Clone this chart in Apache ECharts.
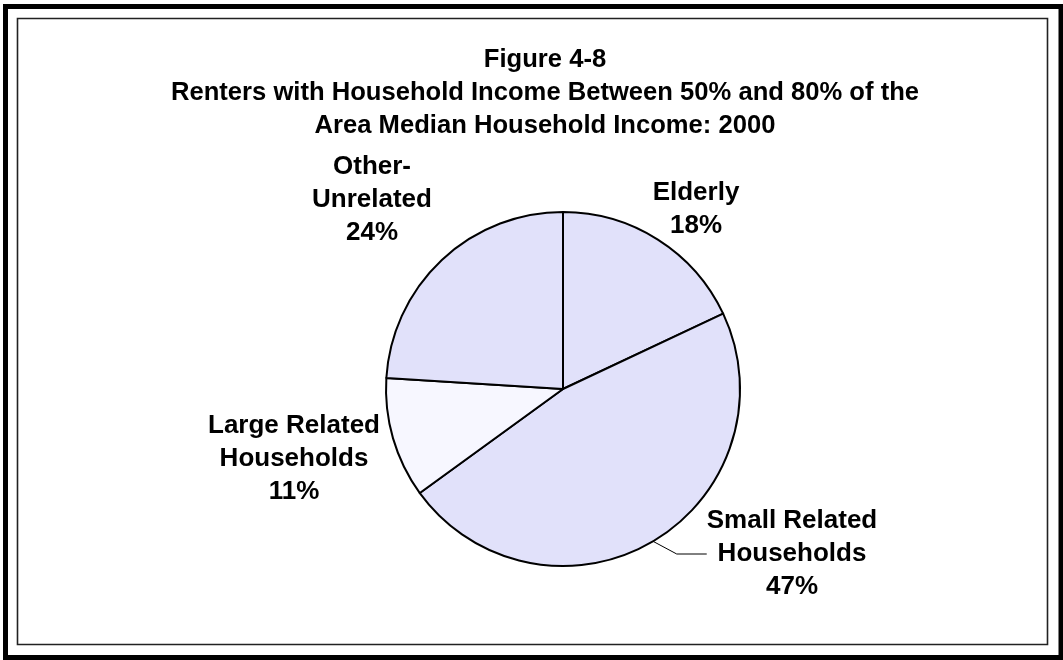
<!DOCTYPE html>
<html>
<head>
<meta charset="utf-8">
<script src="https://cdn.jsdelivr.net/npm/echarts@6/dist/echarts.min.js"></script>
<style>html,body{margin:0;padding:0;background:#fff}#c{width:1063px;height:660px}</style>
</head>
<body>
<div id="c"></div>
<script>
const titleLines = ['Figure 4-8', 'Renters with Household Income Between 50% and 80% of the', 'Area Median Household Income: 2000'];
const categories = ['Elderly', 'Small Related\nHouseholds', 'Large Related\nHouseholds', 'Other-\nUnrelated'];
const values = [18, 47, 11, 24];
const colors = ['#E1E1FA', '#E1E1FA', '#F7F7FF', '#E1E1FA'];

// label anchor positions (layout only)
const labelPos = {
  'Elderly': [696, 209],
  'Small Related\nHouseholds': [792, 554],
  'Large Related\nHouseholds': [294, 459],
  'Other-\nUnrelated': [372, 200]
};

const chart = echarts.init(document.getElementById('c'), null, {renderer: 'canvas'});
const font = "'Liberation Sans', Arial, sans-serif";
chart.setOption({
  animation: false,
  backgroundColor: '#fff',
  title: {
    text: titleLines.join('\n'),
    left: 540,
    top: 38,
    textAlign: 'center',
    textStyle: {fontFamily: font, fontWeight: 'bold', fontSize: 25.6, lineHeight: 33, color: '#000', align: 'center'}
  },
  graphic: [
    {type: 'rect', shape: {x: 5.5, y: 6.5, width: 1055.5, height: 651}, style: {fill: 'none', stroke: '#000', lineWidth: 5}, silent: true},
    {type: 'rect', shape: {x: 17.5, y: 18.5, width: 1030, height: 626}, style: {fill: 'none', stroke: '#222', lineWidth: 1.6}, silent: true}
  ],
  series: [{
    type: 'pie',
    center: [563, 389],
    radius: [0, 177],
    startAngle: 90,
    clockwise: true,
    avoidLabelOverlap: false,
    itemStyle: {borderColor: '#000', borderWidth: 2},
    label: {
      show: true,
      position: 'outside',
      fontFamily: font, fontWeight: 'bold', fontSize: 26, lineHeight: 33, color: '#000',
      align: 'center',
      formatter: p => p.name + '\n' + p.value + '%'
    },
    labelLine: {show: false},
    labelLayout: function (params) {
      const name = params.text.split('\n').slice(0, -1).join('\n');
      const pos = labelPos[name];
      if (!pos) return {};
      return {x: pos[0], y: pos[1], align: 'center', verticalAlign: 'middle'};
    },
    data: categories.map((c, i) => ({
      name: c,
      value: values[i],
      itemStyle: {color: colors[i]},
      labelLine: i === 1 ? {show: true, lineStyle: {color: '#000', width: 1}} : {show: false}
    }))
  }]
});
</script>
</body>
</html>
